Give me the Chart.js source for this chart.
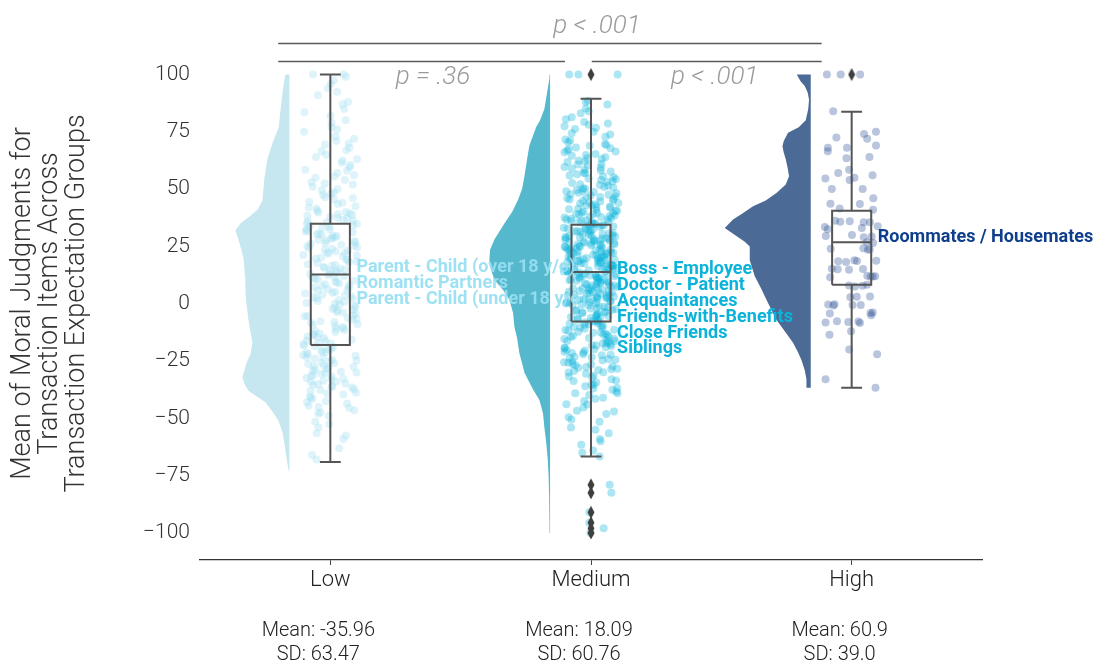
<!DOCTYPE html>
<html>
<head>
<meta charset="utf-8">
<script src="https://cdn.jsdelivr.net/npm/chart.js@4.4.1/dist/chart.umd.min.js"></script>
<style>
  html, body { margin: 0; padding: 0; background: #fff; }
  #wrap { width: 1110px; height: 664px; }
</style>
</head>
<body>
<div id="wrap"><canvas id="chart" width="1110" height="664"></canvas></div>
<script>
/* Raincloud plot: half violin + jittered points + box plot per group */
const categories = ['Low', 'Medium', 'High'];
const statMeans = ['-35.96', '18.09', '60.9'];
const statSDs = ['63.47', '60.76', '39.0'];
const yTicks = [-100, -75, -50, -25, 0, 25, 50, 75, 100];

// box plot stats
const boxQ1 = [-18, -7.7, 8.3];
const boxMedian = [12.7, 13.8, 26.8];
const boxQ3 = [34.9, 34.5, 40.6];
const whiskerLow = [-69, -66.7, -36.7];
const whiskerHigh = [100, 89.4, 83.7];
const lowOutliers = [];
const mediumOutliers = [100, -79, -82.5, -91, -95.5, -98, -100];
const highOutliers = [100];

// half-violin density (relative width) at given values
const lowKdeY = [100, 95, 90, 80, 77, 70, 63, 55, 50, 45, 41, 38, 35, 32, 28, 25, 20, 15, 10, 5, 0, -7, -12, -17, -22, -26, -32, -35, -38, -43, -47, -51, -56, -61, -67, -73];
const lowKde = [0.04, 0.06, 0.075, 0.10, 0.107, 0.17, 0.22, 0.25, 0.26, 0.27, 0.32, 0.40, 0.49, 0.54, 0.51, 0.49, 0.46, 0.45, 0.44, 0.44, 0.43, 0.41, 0.39, 0.37, 0.39, 0.43, 0.47, 0.45, 0.41, 0.24, 0.17, 0.11, 0.07, 0.05, 0.03, 0.007];
const mediumKdeY = [100, 98, 92, 85, 80, 77, 69, 63, 55.5, 50, 45.4, 40, 35, 28, 23.5, 19, 13.5, 10.5, 6, 1.7, -4, -10, -15, -21.6, -26, -30, -33, -37.4, -42, -44.6, -48, -54, -60, -68, -75, -82.5, -90, -100];
const mediumKde = [0.005, 0.007, 0.03, 0.057, 0.10, 0.14, 0.207, 0.23, 0.257, 0.28, 0.32, 0.38, 0.457, 0.557, 0.60, 0.607, 0.58, 0.557, 0.47, 0.407, 0.37, 0.357, 0.33, 0.307, 0.28, 0.257, 0.223, 0.17, 0.107, 0.09, 0.07, 0.057, 0.04, 0.023, 0.015, 0.01, 0.007, 0.003];
const highKdeY = [100, 97, 95, 92, 89, 85, 80, 77, 74.6, 71, 68.7, 66, 63, 59, 55.6, 52, 48.4, 45, 42.5, 39.5, 36.7, 33, 29.4, 27, 25, 19, 12, 7, 1.7, -3, -7, -12, -17, -21, -24.5, -29, -33, -36.7];
const highKde = [0.14, 0.10, 0.06, 0.03, 0.017, 0.025, 0.05, 0.12, 0.227, 0.27, 0.283, 0.27, 0.25, 0.23, 0.217, 0.25, 0.34, 0.45, 0.577, 0.68, 0.777, 0.86, 0.74, 0.66, 0.61, 0.61, 0.56, 0.50, 0.443, 0.39, 0.343, 0.26, 0.177, 0.13, 0.093, 0.06, 0.043, 0.043];

// individual item means (estimated from the point clouds)
const lowValues = [100, 100, 97.5, 94, 91, 88, 85, 82, 79, 77, 75, 73, 71, 69.5, 68, 66.5, 65, 64, 63, 61.5, 60.5,
  59.5, 58.5, 57, 56, 55, 54, 53, 52, 51, 49.5, 48.5, 47.5, 46.5, 45.5, 44.5, 43.5, 42.5, 41.5, 40.5, 40,
  39.5, 39, 38.4, 37.8, 37.2, 36.6, 36, 35.4, 34.8, 34.2, 33.6, 33, 32.4, 31.8, 31.2, 30.6, 30,
  29.5, 29, 28.4, 27.9, 27.3, 26.8, 26.2, 25.7, 25.1, 24.6, 24, 23.5, 22.9, 22.4, 21.8, 21.3, 20.7, 20.2,
  19.6, 19, 18.4, 17.8, 17.2, 16.6, 16, 15.4, 14.8, 14.2, 13.6, 13, 12.4, 11.8, 11.2, 10.6, 10,
  9.4, 8.8, 8.2, 7.6, 7, 6.3, 5.7, 5.1, 4.5, 3.9, 3.3, 2.7, 2.1, 1.5, 0.9, 0.3,
  -0.3, -1, -1.6, -2.3, -3, -3.6, -4.3, -5, -5.6, -6.3, -7, -7.6, -8.3, -9, -9.6,
  -10.3, -11, -11.6, -12.3, -13, -13.6, -14.3, -15, -15.6, -16.3, -17, -17.6, -18.3, -19, -19.6,
  -20.3, -20.9, -21.5, -22.1, -22.7, -23.3, -23.9, -24.5, -25.1, -25.7, -26.3, -26.9, -27.5, -28.1, -28.7, -29.4,
  -30, -30.6, -31.2, -31.8, -32.4, -33, -33.6, -34.2, -34.8, -35.4, -36, -36.6, -37.3, -38, -38.8, -39.6,
  -40.5, -41.5, -42.5, -43.5, -44.5, -45.5, -46.5, -47.5, -49, -51.5, -54, -56.5, -59, -63, -68,
  99, 96, 92.5, 87, 83.5, 80, 76, 72, 70, 67, 62.5, 58, 55.5, 52.5, 50, 48, 46, 44, 42, 39.8, 38.8, 37.5,
  36.3, 35.1, 33.9, 32.7, 31.5, 30.3, 29.7, 28.7, 27.6, 26.5, 25.4, 24.3, 23.2, 22.1, 21, 19.3, 18.1, 16.9,
  15.7, 14.5, 13.3, 12.1, 10.9, 9.7, 8.5, 7.3, 6, 4.8, 3.6, 2.4, 1.2, 0, -1.3, -2.6, -3.9, -5.3, -6.6, -8,
  -9.3, -10.6, -12, -13.3, -14.6, -16, -17.3, -18.6, -20, -21.2, -22.4, -23.6, -24.8, -26, -27.2, -28.4,
  -29.7, -30.3, -31.5, -32.7, -33.9, -35.1, -36.3, -37.6, -39.2, -41, -43, -45, -48, -52.5, -57.5, -66];
const mediumValues = [100, 100, 100, 88.6, 86.9, 85.2, 83.1, 81.4,
  79.3, 78.1, 77.4, 76.2, 75.0, 73.8, 72.9, 71.6, 70.4,
  69.7, 68.9, 68.2, 67.4, 66.8, 66.1, 65.3, 64.6, 63.9, 63.1, 62.5, 61.8, 61.0, 60.3,
  59.6, 59.0, 58.4, 57.7, 57.1, 56.5, 55.9, 55.2, 54.6, 54.0, 53.4, 52.7, 52.1, 51.5, 50.9, 50.4, 50.0,
  49.6, 49.1, 48.7, 48.2, 47.8, 47.3, 46.9, 46.4, 46.0, 45.5, 45.1, 44.6, 44.2, 43.7, 43.3, 42.8, 42.4, 41.9, 41.5, 41.0, 40.6, 40.2,
  39.8, 39.5, 39.1, 38.8, 38.5, 38.1, 37.8, 37.4, 37.1, 36.8, 36.4, 36.1, 35.8, 35.4, 35.1, 34.7, 34.4, 34.1, 33.7, 33.4,
  33.1, 32.7, 32.4, 32.0, 31.7, 31.4, 31.0, 30.7, 30.4, 30.1,
  29.8, 29.5, 29.3, 29.0, 28.7, 28.5, 28.2, 27.9, 27.6, 27.4, 27.1, 26.8, 26.6, 26.3, 26.0, 25.8, 25.5, 25.2, 24.9,
  24.7, 24.4, 24.1, 23.9, 23.6, 23.3, 23.1, 22.8, 22.5, 22.2, 22.0, 21.7, 21.4, 21.2, 20.9, 20.6, 20.4, 20.1, 20.0,
  19.8, 19.5, 19.3, 19.0, 18.8, 18.5, 18.2, 18.0, 17.7, 17.5, 17.2, 17.0, 16.7, 16.4, 16.2, 15.9, 15.7, 15.4, 15.1, 14.9,
  14.6, 14.4, 14.1, 13.8, 13.6, 13.3, 13.1, 12.8, 12.6, 12.3, 12.0, 11.8, 11.5, 11.3, 11.0, 10.7, 10.5, 10.2, 10.0,
  9.7, 9.4, 9.1, 8.8, 8.5, 8.2, 7.9, 7.6, 7.3, 7.0, 6.7, 6.4, 6.1, 5.8, 5.5, 5.2, 4.9, 4.6, 4.3, 4.0,
  3.7, 3.4, 3.1, 2.8, 2.5, 2.2, 1.9, 1.6, 1.3, 1.0, 0.7, 0.4, 0.1,
  -0.3, -0.7, -1.1, -1.5, -1.9, -2.3, -2.7, -3.1, -3.5, -3.8, -4.2, -4.6, -5.0, -5.4, -5.8, -6.2, -6.6, -7.0, -7.4, -7.7,
  -8.1, -8.5, -8.9, -9.2, -9.6, -10.0,
  -10.4, -10.9, -11.3, -11.8, -12.2, -12.7, -13.1, -13.6, -14.0, -14.5, -14.9, -15.4, -15.8, -16.3, -16.7, -17.2, -17.6, -18.1, -18.5, -19.0, -19.4, -19.9,
  -20.4, -20.9, -21.5, -22.0, -22.5, -23.1, -23.6, -24.1, -24.7, -25.2, -25.7, -26.3, -26.8, -27.3, -27.9, -28.4, -28.9, -29.4, -29.9,
  -30.6, -31.4, -32.1, -32.9, -33.7, -34.4, -35.2, -36.0, -36.8, -37.5, -38.3, -39.1, -39.8,
  -41.0, -42.4, -43.8, -45.3, -46.7, -48.1, -49.5, -51.5, -54.0, -56.5, -59.0, -61.5, -64.0, -66.7,
  -79, -82.5, -91, -95.5, -98, -100,
  88, 84, 80.5, 78.6, 76.8, 74.4, 71.2, 69.3, 67.8, 66.4, 64.9, 63.5, 62.1, 60.7, 59.3, 58.1, 56.9, 55.6,
  54.3, 53.1, 51.8, 50.6, 49.4, 48.4, 47.5, 46.6, 45.7, 44.8, 43.9, 43, 42.1, 41.2, 40.4, 39.6, 39, 38.3,
  37.6, 36.9, 36.2, 35.5, 34.9, 34.2, 33.5, 32.8, 32.2, 31.5, 30.8, 30.2, 29.6, 29.1, 28.6, 28.1, 27.5, 27,
  26.5, 26, 25.4, 24.9, 24.3, 23.8, 23.2, 22.7, 22.1, 21.6, 21, 20.5, 19.9, 19.4, 18.9, 18.3, 17.8, 17.3,
  16.8, 16.3, 15.8, 15.2, 14.7, 14.2, 13.7, 13.1, 12.6, 12.1, 11.6, 11, 10.4, 9.8, 9.2, 8.6, 8, 7.4, 6.8,
  6.2, 5.6, 5, 4.4, 3.8, 3.2, 2.6, 2, 1.4, 0.8, 0.2, -0.5, -1.3, -2.1, -2.9, -3.7, -4.5, -5.3, -6.1, -6.9,
  -7.8, -8.7, -9.6, -10.6, -11.5, -12.5, -13.4, -14.4, -15.3, -16.3, -17.2, -18.2, -19.2, -20.2, -21.3,
  -22.3, -23.4, -24.4, -25.5, -26.5, -27.6, -28.6, -30, -31.8, -33.5, -35.3, -37, -39, -41.5, -44, -47,
  -50.5, -55, -60, -65];
const highValues = [100, 100, 100, 84, 75, 74, 72.5, 72, 69, 68, 68, 66.5, 64, 63.5, 58.5, 57, 56, 55, 54.6, 54, 50, 50,
  46, 43.6, 43.5, 41.5, 41, 36, 35.8, 35.5, 35.5, 36.2, 33.8, 33.5, 32.5, 33, 30, 29.5, 29, 29.3, 26.5, 26.8,
  24, 23.5, 23.8, 24.2, 18.5, 18.8, 18.2, 19, 18.6, 15, 15.2, 14.8, 15.3, 12, 11.8, 12.2, 11.5, 11.9,
  8.3, 7.5, 8, 7.8, 3, 3.2, 2.8, -0.5, -0.3, -0.8, -0.6, -0.2, -4, -4.3, -3.8, -5, -8, -8.2, -7.8, -8.4, -7.6,
  -12, -13.5, -20, -22, -33, -36.7];

const lowItems = ['Parent - Child (over 18 y/o)', 'Romantic Partners', 'Parent - Child (under 18 y/o)'];
const mediumItems = ['Boss - Employee', 'Doctor - Patient', 'Acquaintances', 'Friends-with-Benefits', 'Close Friends', 'Siblings'];
const highItems = ['Roommates / Housemates'];
const pLabels = ['p < .001', 'p = .36', 'p < .001'];

// ---- styling / layout ----
const FONT = 'Roboto';
const violinColors = ['#c6e7f0', '#56b8cc', '#4b6b96'];
const pointColors = ['rgba(150,218,240,0.30)', 'rgba(0,176,218,0.32)', 'rgba(55,90,155,0.35)'];
const labelColors = ['rgba(150,222,242,0.92)', '#0bb3da', '#0f3f8c'];
const VIOLIN_EDGE = -0.157;     // flat side of the half violin, in category units
const VIOLIN_UNIT = 100 / 260.7;
const BOX_HALF = 0.075;
const CAP_HALF = 0.04;
const JITTER_HALF = 0.105;

function violin(g, ys, ws) {
  const edge = g + VIOLIN_EDGE;
  const pts = [{ x: edge, y: ys[0] }];
  ys.forEach((v, i) => pts.push({ x: edge - ws[i] * VIOLIN_UNIT, y: v }));
  pts.push({ x: edge, y: ys[ys.length - 1] });
  return {
    type: 'line', data: pts, fill: 'shape', backgroundColor: violinColors[g],
    borderWidth: 0, pointRadius: 0, tension: 0, order: 5
  };
}

function hash(i) {
  const s = Math.sin(i * 12.9898 + 78.233) * 43758.5453;
  return s - Math.floor(s);
}

function strip(g, vals) {
  return {
    type: 'scatter',
    data: vals.map((v, i) => ({ x: g + (hash(i + g * 1000) - 0.5) * 2 * JITTER_HALF, y: v })),
    backgroundColor: pointColors[g], borderWidth: 0, pointRadius: 4, order: 4
  };
}

function box(g) {
  const gap = { x: NaN, y: NaN };
  const l = g - BOX_HALF, r = g + BOX_HALF;
  const pts = [
    { x: l, y: boxQ1[g] }, { x: r, y: boxQ1[g] }, { x: r, y: boxQ3[g] }, { x: l, y: boxQ3[g] }, { x: l, y: boxQ1[g] }, gap,
    { x: l, y: boxMedian[g] }, { x: r, y: boxMedian[g] }, gap,
    { x: g, y: boxQ3[g] }, { x: g, y: whiskerHigh[g] }, gap,
    { x: g - CAP_HALF, y: whiskerHigh[g] }, { x: g + CAP_HALF, y: whiskerHigh[g] }, gap,
    { x: g, y: boxQ1[g] }, { x: g, y: whiskerLow[g] }, gap,
    { x: g - CAP_HALF, y: whiskerLow[g] }, { x: g + CAP_HALF, y: whiskerLow[g] }
  ];
  return {
    type: 'line', data: pts, borderColor: '#555', borderWidth: 2, pointRadius: 0,
    fill: false, spanGaps: false, tension: 0, order: 3, borderCapStyle: 'butt'
  };
}

// thin diamond marker like matplotlib 'd'
const diamond = document.createElement('canvas');
diamond.width = 8; diamond.height = 14;
(() => {
  const c = diamond.getContext('2d');
  c.fillStyle = '#3f3f3f';
  c.beginPath(); c.moveTo(4, 0.5); c.lineTo(7.5, 7); c.lineTo(4, 13.5); c.lineTo(0.5, 7); c.closePath(); c.fill();
})();

function outliers(g, vals) {
  return {
    type: 'scatter', data: vals.map(v => ({ x: g, y: v })),
    pointStyle: diamond, pointRadius: 5, order: 2
  };
}

function sigBar(x0, x1, v) {
  return {
    type: 'line', data: [{ x: x0, y: v }, { x: x1, y: v }], borderColor: '#5a5a5a', borderWidth: 1.6,
    pointRadius: 0, fill: false, clip: false, order: 1
  };
}

const datasets = [
  violin(0, lowKdeY, lowKde), violin(1, mediumKdeY, mediumKde), violin(2, highKdeY, highKde),
  strip(0, lowValues), strip(1, mediumValues), strip(2, highValues),
  box(0), box(1), box(2),
  outliers(0, lowOutliers), outliers(1, mediumOutliers), outliers(2, highOutliers),
  sigBar(-0.2, 1.885, 113.5), sigBar(-0.2, 0.9, 105.7), sigBar(1.003, 1.885, 105.7)
];

const annotate = {
  id: 'annotate',
  afterDatasetsDraw(chart) {
    const { ctx, scales: { x, y } } = chart;
    ctx.save();
    ctx.textAlign = 'left';
    ctx.textBaseline = 'middle';
    ctx.font = `700 18px ${FONT}`;
    const tops = [15.7, 14.8, 29];
    [lowItems, mediumItems, highItems].forEach((list, g) => {
      ctx.fillStyle = labelColors[g];
      list.forEach((t, k) => ctx.fillText(t, x.getPixelForValue(g + 0.1), y.getPixelForValue(tops[g]) + k * 15.8));
    });
    ctx.font = `italic 300 26px ${FONT}`;
    ctx.fillStyle = '#9a9a9a';
    ctx.textAlign = 'center';
    const spots = [[1.023, 121], [0.394, 98.7], [1.475, 98.7]];
    pLabels.forEach((t, i) => ctx.fillText(t, x.getPixelForValue(spots[i][0]), y.getPixelForValue(spots[i][1])));
    ctx.restore();
  },
  afterDraw(chart) {
    // group summary under each category label
    const { ctx, scales: { x } } = chart;
    const base = chart.chartArea.bottom;
    ctx.save();
    ctx.font = `300 20px ${FONT}`;
    ctx.fillStyle = '#222';
    ctx.textAlign = 'center';
    ctx.textBaseline = 'middle';
    categories.forEach((c, g) => {
      const px = x.getPixelForValue(g) - 12;
      ctx.fillText('Mean: ' + statMeans[g], px, base + 71);
      ctx.fillText('SD: ' + statSDs[g], px, base + 95);
    });
    ctx.restore();
  }
};

new Chart(document.getElementById('chart'), {
  type: 'scatter',
  data: { datasets },
  options: {
    responsive: false,
    animation: false,
    events: [],
    layout: { padding: { top: 47, right: 128, left: 0, bottom: 0 } },
    plugins: { legend: { display: false }, tooltip: { enabled: false } },
    scales: {
      x: {
        type: 'linear', min: -0.5, max: 2.5,
        afterBuildTicks: s => { s.ticks = [0, 1, 2].map(v => ({ value: v })); },
        afterFit: s => { s.height = 104; },
        ticks: {
          callback: (v, i) => categories[i],
          font: { family: FONT, size: 22, weight: 300 },
          color: '#222', padding: 2, maxRotation: 0
        },
        grid: { display: true, drawOnChartArea: false, tickLength: 5, color: '#444' },
        border: { color: '#333', width: 1.3 }
      },
      y: {
        min: -111.8, max: 112,
        afterBuildTicks: s => { s.ticks = yTicks.map(v => ({ value: v })); },
        afterFit: s => { s.width = 200; },
        ticks: {
          callback: v => (v < 0 ? '\u2212' + Math.abs(v) : String(v)),
          font: { family: FONT, size: 21, weight: 300 }, color: '#333', padding: 10
        },
        grid: { display: false, drawTicks: false },
        border: { display: false },
        title: {
          display: true,
          text: ['Mean of Moral Judgments for', 'Transaction Items Across', 'Transaction Expectation Groups'],
          font: { family: FONT, size: 27, weight: 300, lineHeight: 1.0 },
          color: '#333', padding: { top: 10, bottom: 0 }
        }
      }
    }
  },
  plugins: [annotate]
});
</script>
</body>
</html>
